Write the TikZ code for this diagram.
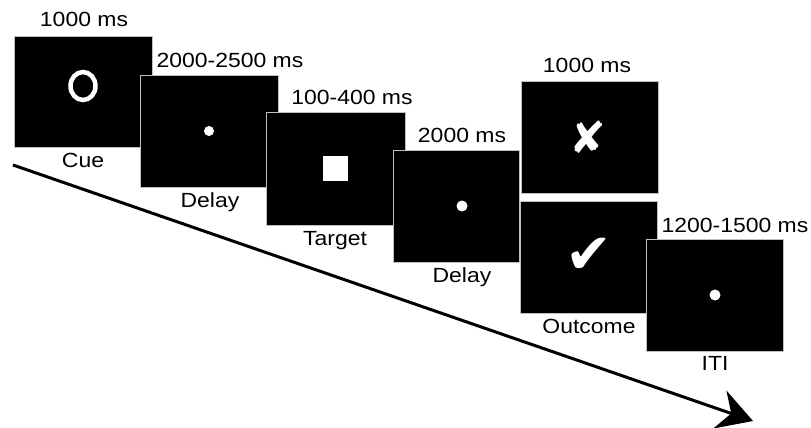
\documentclass[tikz,border=0pt]{standalone}
\usepackage{fontspec}
\setmainfont[FakeStretch=1.12]{Liberation Sans}
\newfontfamily\symfont{DejaVu Sans}
\usetikzlibrary{arrows.meta}
\begin{document}
\begin{tikzpicture}[x=1pt,y=-1pt,
  screen/.style={fill=black, draw=black!25, line width=0.8pt, inner sep=0pt, outer sep=0pt, anchor=north west},
  lbl/.style={anchor=base, inner sep=0pt, font=\fontsize{20.5}{21}\selectfont},
  dotw/.style={fill=white, circle, inner sep=0pt, minimum size=10pt},
  sym/.style={text=white, inner sep=0pt}]
\useasboundingbox[fill=white] (0,0) rectangle (811,428);
% time arrow
\coordinate (as) at (13,165);
\coordinate (ae) at (753,421);
\draw[line width=3pt, -{Stealth[length=35pt,width=40pt,inset=12pt]}] (as) -- (ae);
% screens
\node[screen, minimum width=138pt, minimum height=111pt] (cue) at (14,36) {};
\node[screen, minimum width=138pt, minimum height=112pt] (dl1) at (140,75) {};
\node[screen, minimum width=139pt, minimum height=113pt] (tgt) at (266,112) {};
\node[screen, minimum width=126pt, minimum height=112pt] (dl2) at (393,150) {};
\node[screen, minimum width=137pt, minimum height=112pt] (fbx) at (521,81) {};
\node[screen, minimum width=137pt, minimum height=112pt] (out) at (520,201) {};
\node[screen, minimum width=137pt, minimum height=112pt] (iti) at (646,239) {};
% stimuli
\draw[white, line width=4.5pt] (83,86) ellipse [x radius=12.5pt, y radius=14pt];
\node[dotw] (dot1) at (209,131) {};
\node[fill=white, minimum size=25pt, inner sep=0pt] (sq) at (335,168) {};
\node[dotw, minimum size=11pt] (dot2) at (462,206) {};
\node[sym, font=\symfont\fontsize{44}{44}\selectfont] (xm) at (588,137) {✘};
\node[sym, font=\symfont\fontsize{56}{56}\selectfont] (ck) at (589,256) {✔};
\node[dotw, minimum size=11pt] (dot3) at (715,295) {};
% durations
\node[lbl] (t1) at (84,27) {1000 ms};
\node[lbl] (t2) at (230,67) {2000-2500 ms};
\node[lbl] (t3) at (352,104) {100-400 ms};
\node[lbl] (t4) at (462,142) {2000 ms};
\node[lbl] (t5) at (587,73) {1000 ms};
\node[lbl] (t6) at (735,232) {1200-1500 ms};
% names
\node[lbl] (n1) at (83,167) {Cue};
\node[lbl] (n2) at (210,207) {Delay};
\node[lbl] (n3) at (335,245) {Target};
\node[lbl] (n4) at (462,282) {Delay};
\node[lbl] (n5) at (589,333) {Outcome};
\node[lbl] (n6) at (715,370) {ITI};
\end{tikzpicture}
\end{document}
